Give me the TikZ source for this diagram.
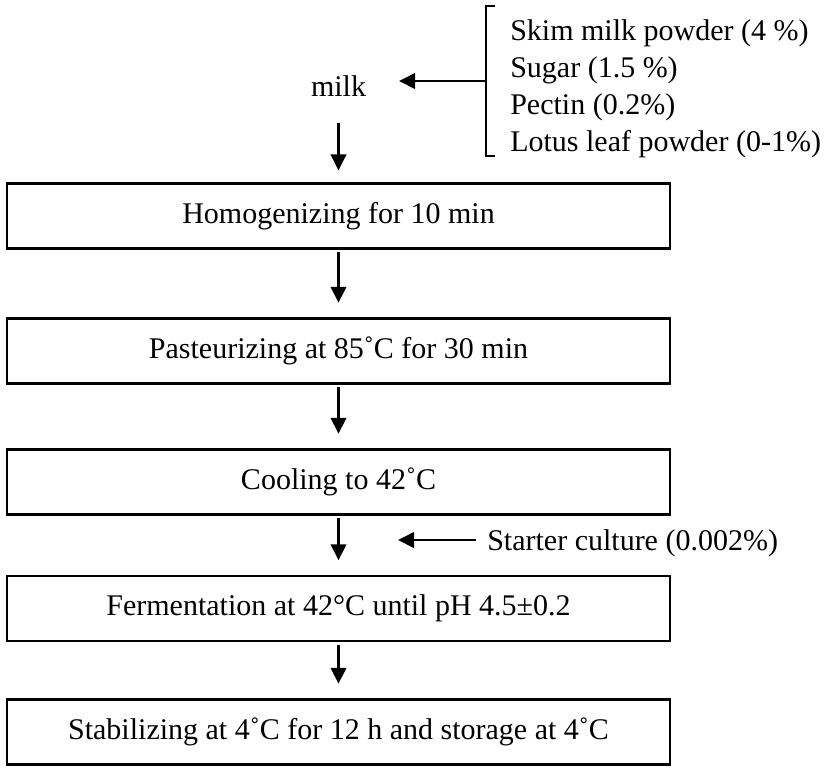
\documentclass[tikz,border=0pt]{standalone}
\usepackage{fontspec}
\setmainfont{Liberation Serif}
\usetikzlibrary{arrows.meta}
\begin{document}
\begin{tikzpicture}[x=0.75pt,y=-0.75pt,
  every node/.style={font=\fontsize{22.5pt}{27pt}\selectfont},
  stepbox/.style={draw, line width=1.6pt, minimum width=497.25pt, minimum height=48.75pt, inner sep=0pt},
  plain/.style={inner sep=0pt},
  arr/.style={line width=2pt, -{Triangle[length=12pt,width=11.5pt]}},
  brk/.style={line width=1.2pt}]
\useasboundingbox (0,0) rectangle (827,768);
% boxes
\node[stepbox] (b1) at (338.5,216) {Homogenizing for 10 min};
\node[stepbox] (b2) at (338.5,351) {Pasteurizing at 85˚C for 30 min};
\node[stepbox] (b3) at (338.5,482) {Cooling to 42˚C};
\node[stepbox] (b4) at (338.5,608.5) {Fermentation at 42°C until pH 4.5±0.2};
\node[stepbox] (b5) at (338.5,732) {Stabilizing at 4˚C for 12 h and storage at 4˚C};
% milk and ingredients
\node[plain, anchor=base] (milk) at (338.5,96) {milk};
\node[plain, anchor=base west] (i1) at (510,40) {Skim milk powder (4 \%)};
\node[plain, anchor=base west] (i2) at (510,77) {Sugar (1.5 \%)};
\node[plain, anchor=base west] (i3) at (510,114) {Pectin (0.2\%)};
\node[plain, anchor=base west] (i4) at (510,151) {Lotus leaf powder (0-1\%)};
\coordinate (bt) at (495,6);
\coordinate (bb) at (495,156);
\coordinate (bm) at (486,81);
\coordinate (mtip) at (399,81);
\draw[brk] (bt) -- ++(-9,0) |- (bb);
\draw[arr] (bm) -- (mtip);
% starter culture
\node[plain, anchor=base west] (sc) at (487,550) {Starter culture (0.002\%)};
\coordinate (stail) at (476,540);
\coordinate (stip) at (398,540);
\draw[arr] (stail) -- (stip);
% vertical arrows
\draw[arr] ([yshift=-20pt]milk.base) -- ([yshift=9pt]b1.north);
\draw[arr] ([yshift=-2pt]b1.south) -- ([yshift=11pt]b2.north);
\draw[arr] ([yshift=-2pt]b2.south) -- ([yshift=11pt]b3.north);
\draw[arr] ([yshift=-2pt]b3.south) -- ([yshift=11pt]b4.north);
\draw[arr] ([yshift=-2pt]b4.south) -- ([yshift=11pt]b5.north);
\end{tikzpicture}
\end{document}
